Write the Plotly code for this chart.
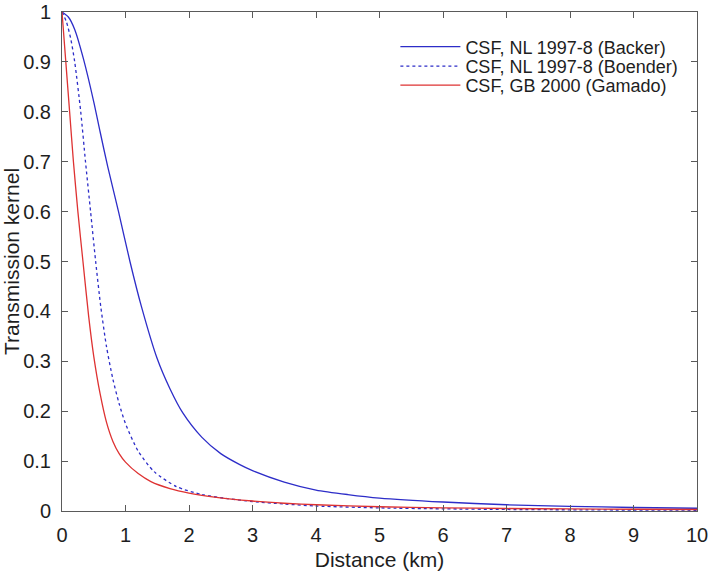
import plotly.graph_objects as go

# Backer kernel (solid blue)
backer_d = [0.0, 0.1, 0.2, 0.34, 0.5, 0.6, 0.72, 0.89, 1.07, 1.25, 1.5, 1.7, 1.9, 2.2, 2.5, 2.8, 3.0, 3.5, 4.0, 4.5, 5.0, 6.0, 7.0, 8.0, 9.0, 10.0]
backer_k = [1.0, 0.99, 0.965, 0.905, 0.82, 0.76, 0.69, 0.60, 0.50, 0.41, 0.305, 0.245, 0.197, 0.148, 0.115, 0.093, 0.081, 0.058, 0.042, 0.033, 0.026, 0.018, 0.0125, 0.0093, 0.007, 0.0055]

# Boender kernel (dashed blue)
boender_d = [0.0, 0.07, 0.14, 0.2, 0.295, 0.37, 0.45, 0.53, 0.61, 0.7, 0.8, 0.9, 1.0, 1.2, 1.45, 1.8, 2.2, 2.6, 3.0, 3.5, 4.0, 5.0, 6.0, 7.0, 8.0, 9.0, 10.0]
boender_k = [1.0, 0.98, 0.945, 0.90, 0.80, 0.70, 0.60, 0.50, 0.41, 0.33, 0.265, 0.215, 0.175, 0.12, 0.079, 0.049, 0.033, 0.025, 0.019, 0.014, 0.010, 0.0062, 0.0043, 0.0031, 0.0024, 0.0019, 0.0015]

# Gamado kernel (solid red)
gamado_d = [0.0, 0.06, 0.12, 0.18, 0.25, 0.33, 0.42, 0.5, 0.6, 0.7, 0.8, 0.9, 1.0, 1.2, 1.4, 1.7, 2.0, 2.4, 3.0, 3.5, 4.0, 5.0, 6.0, 7.0, 8.0, 9.0, 10.0]
gamado_k = [1.0, 0.90, 0.80, 0.70, 0.60, 0.50, 0.39, 0.31, 0.235, 0.178, 0.14, 0.115, 0.098, 0.075, 0.059, 0.045, 0.036, 0.028, 0.020, 0.0155, 0.0125, 0.0085, 0.0063, 0.005, 0.0041, 0.0035, 0.003]

names = ["CSF, NL 1997-8 (Backer)", "CSF, NL 1997-8 (Boender)", "CSF, GB 2000 (Gamado)"]

x_ticks = [0, 1, 2, 3, 4, 5, 6, 7, 8, 9, 10]
y_ticks = [0, 0.1, 0.2, 0.3, 0.4, 0.5, 0.6, 0.7, 0.8, 0.9, 1]
y_labels = ["0", "0.1", "0.2", "0.3", "0.4", "0.5", "0.6", "0.7", "0.8", "0.9", "1"]

blue = "rgb(45,45,200)"
red = "rgb(222,50,50)"
txt = "#1e1e1e"

fig = go.Figure()
fig.add_trace(go.Scatter(x=backer_d, y=backer_k, mode="lines", name=names[0], legend="legend",
                         line=dict(color=blue, width=1.3, shape="spline", smoothing=0.7)))
fig.add_trace(go.Scatter(x=boender_d, y=boender_k, mode="lines", name=names[1], legend="legend2",
                         line=dict(color=blue, width=1.3, dash="3px,3px", shape="spline", smoothing=0.7)))
fig.add_trace(go.Scatter(x=gamado_d, y=gamado_k, mode="lines", name=names[2], legend="legend3",
                         line=dict(color=red, width=1.3, shape="spline", smoothing=0.7)))

axis_common = dict(showgrid=False, zeroline=False, showline=True, linecolor="#5a5a5a", linewidth=1,
                   mirror="ticks", ticks="inside", ticklen=6, tickcolor="#5a5a5a",
                   tickfont=dict(size=20, color=txt), automargin=False, ticklabeloverflow="allow")

fig.update_xaxes(range=[0, 10], tickvals=x_ticks, ticktext=[str(v) for v in x_ticks],
                 ticklabelstandoff=6,
                 title=dict(text="Distance (km)", font=dict(size=21, color=txt), standoff=7),
                 **axis_common)
fig.update_yaxes(range=[0, 1], tickvals=y_ticks, ticktext=y_labels,
                 ticklabelstandoff=6,
                 title=dict(text="Transmission kernel", font=dict(size=21, color=txt), standoff=5),
                 **axis_common)

leg_common = dict(xanchor="left", yanchor="middle", bgcolor="rgba(255,255,255,0)",
                  font=dict(size=18, color=txt), itemwidth=60)
leg_x = 0.525
fig.update_layout(
    width=709, height=574,
    margin=dict(l=62, r=12, t=12, b=63),
    paper_bgcolor="white", plot_bgcolor="white",
    font=dict(family="Liberation Sans, Arial, sans-serif", color=txt),
    showlegend=True,
    legend=dict(x=leg_x, y=0.93, **leg_common),
    legend2=dict(x=leg_x, y=0.891, **leg_common),
    legend3=dict(x=leg_x, y=0.853, **leg_common),
)

fig.write_html("out.html", config={"displayModeBar": False},
               post_script="document.body.style.margin='0';document.body.style.overflow='hidden';")
